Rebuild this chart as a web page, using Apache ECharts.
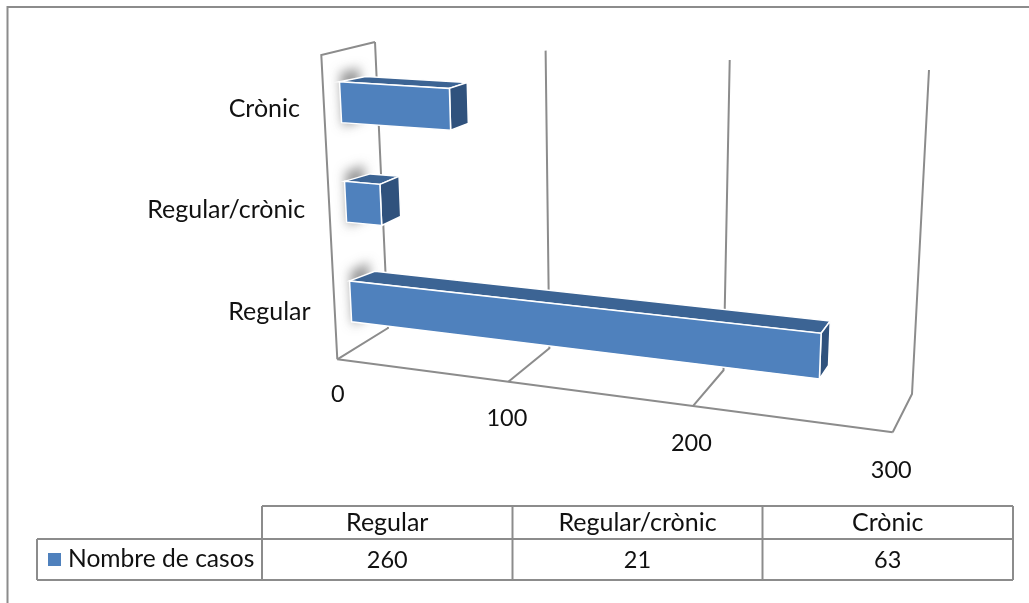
<!DOCTYPE html>
<html><head><meta charset="utf-8">
<style>html,body{margin:0;padding:0;background:#fff}#c{width:1029px;height:603px}</style>
<script src="https://cdn.jsdelivr.net/npm/echarts@6/dist/echarts.min.js"></script>
</head><body><div id="c"></div>
<script>
const categories = ['Regular', 'Regular/crònic', 'Crònic'];
const caseCounts = [260, 21, 63];
const axisTicks = [0, 100, 200, 300];
const seriesName = 'Nombre de casos';

// Box corners of the perspective view: front/back, bottom/top, at value min / max
const F0B=[337.3,359.3],F3B=[892.7,432.3],B0B=[388,328],B3B=[912,394],
      F0T=[321.3,55],F3T=[910,86],B0T=[375,42],B3T=[929,70];
const G={left:100,top:100,w:300,h:300};
const FONT='Lato', GRID='#8c8c8c', TXT='#111', WORD=25, NUM=23.5;
const lerp=(a,b,k)=>[a[0]+(b[0]-a[0])*k,a[1]+(b[1]-a[1])*k];
const persp=u=>u*(1-0.11)/(1-0.11*u);
function P(u,t,d){
  const s=persp(u);
  const fb=lerp(F0B,F3B,s),ft=lerp(F0T,F3T,s),bb=lerp(B0B,B3B,s),bt=lerp(B0T,B3T,s);
  return lerp(lerp(fb,ft,t),lerp(bb,bt,t),d);
}
const toUT=p=>[(p[0]-G.left)/G.w,(G.top+G.h-p[1])/G.h];

function renderGrid(params,api){
  const v=api.value(0);
  const [u]=toUT(api.coord([v,0]));
  const kids=[];
  const lineStyle={stroke:GRID,lineWidth:2,fill:null};
  kids.push({type:'polyline',shape:{points:[P(u,0,0),P(u,0,1),P(u,1,1)]},style:lineStyle});
  if(params.dataIndex===0){
    kids.push({type:'polyline',shape:{points:[P(0,0,0),P(0,1,0),P(0,1,1)]},style:lineStyle});
    kids.push({type:'line',shape:{x1:F0B[0],y1:F0B[1],x2:F3B[0],y2:F3B[1]},style:lineStyle});
  }
  const p=P(u,0,0);
  kids.push({type:'text',style:{text:String(v),x:p[0]-(u>0?1.5:-0.5),y:p[1]+35.5+2.5*u,align:'center',verticalAlign:'middle',fontFamily:FONT,fontSize:NUM,fill:TXT}});
  return {type:'group',children:kids};
}
function renderCat(params,api){
  const c=api.value(0);
  const [,t]=toUT(api.coord([0,c]));
  const p=P(0,t,0);
  return {type:'text',style:{text:categories[c],x:p[0]-24,y:p[1]+3,align:'right',verticalAlign:'middle',fontFamily:FONT,fontSize:WORD,fill:TXT}};
}
function renderBar(params,api){
  const val=api.value(0),c=api.value(1);
  const end=api.coord([val,c]),start=api.coord([0,c]);
  const band=api.size([0,1])[1];
  const u0=toUT(start)[0],u1=toUT(end)[0],tm=toUT(end)[1]-0.005;
  const hw=0.205*band/G.h,t0=tm-hw,t1=tm+hw,d0=0.31,d1=0.69,ub=u0+0.012;
  const edge={stroke:'#fff',lineWidth:1.5};
  // soft wall shadow: the shape sits off-canvas, only its blurred shadow lands on the wall
  const OFF=3000;
  const shadowPts=[P(0,t0-0.014,d0+0.02),P(0,t1+0.03,d0+0.02),P(0,t1+0.03,d1),P(0,t0-0.014,d1)].map(p=>[p[0]-OFF,p[1]]);
  return {type:'group',children:[
    {type:'polygon',shape:{points:shadowPts},
     style:{fill:'#000',shadowBlur:11,shadowOffsetX:OFF,shadowColor:'rgba(135,135,135,0.85)'}},
    {type:'polygon',shape:{points:[P(u0,t1,d0),P(ub,t1,d1),P(u1,t1,d1),P(u1,t1,d0)]},style:{fill:'#3C6494',...edge}},
    {type:'polygon',shape:{points:[P(u1,t0,d0),P(u1,t1,d0),P(u1,t1,d1),P(u1,t0,d1)]},style:{fill:'#30527D',...edge}},
    {type:'polygon',shape:{points:[P(u0,t0,d0),P(u0,t1,d0),P(u1,t1,d0),P(u1,t0,d0)]},style:{fill:'#4F81BD',...edge}}
  ]};
}

// Data table
const colX=[262,512.5,762.5,1013], rowY=[506,539,580], tableLeft=37;
const tLine={stroke:GRID,lineWidth:2};
const hline=(x1,x2,y)=>({type:'line',shape:{x1,y1:y,x2,y2:y},style:tLine,silent:true});
const vline=(x,y1,y2)=>({type:'line',shape:{x1:x,y1,x2:x,y2},style:tLine,silent:true});
const cell=(text,x,y,size)=>({type:'text',style:{text:String(text),x,y,align:'center',verticalAlign:'middle',fontFamily:FONT,fontSize:size,fill:TXT},silent:true});
const graphics=[
  {type:'line',shape:{x1:7,y1:7,x2:1029,y2:7},style:{stroke:GRID,lineWidth:2},silent:true},
  {type:'line',shape:{x1:7.5,y1:6,x2:7.5,y2:603},style:{stroke:GRID,lineWidth:2},silent:true},
  hline(colX[0],colX[3],rowY[0]),hline(tableLeft,colX[3],rowY[1]),hline(tableLeft,colX[3],rowY[2]),
  vline(tableLeft,rowY[1],rowY[2]),
  ...colX.map(x=>vline(x,rowY[0],rowY[2])),
  ...categories.map((c,i)=>cell(c,(colX[i]+colX[i+1])/2,523,WORD)),
  ...caseCounts.map((v,i)=>cell(v,(colX[i]+colX[i+1])/2,560,NUM))
];

const chart=echarts.init(document.getElementById('c'),null,{renderer:'canvas'});
chart.setOption({
  animation:false,
  backgroundColor:'#fff',
  grid:{left:G.left,top:G.top,width:G.w,height:G.h,show:false},
  xAxis:{type:'value',min:axisTicks[0],max:axisTicks[axisTicks.length-1],interval:100,show:false},
  yAxis:{type:'category',data:categories,show:false},
  legend:{data:[seriesName],left:43,top:547,icon:'rect',itemWidth:13,itemHeight:13,itemGap:0,
    textStyle:{fontFamily:FONT,fontSize:24.6,color:TXT,padding:[0,0,0,2]},selectedMode:false,padding:[0,0,0,5]},
  tooltip:{show:false},
  graphic:graphics,
  series:[
    {type:'custom',name:'grid',silent:true,renderItem:renderGrid,data:axisTicks.map(v=>[v])},
    {type:'custom',name:'cats',silent:true,renderItem:renderCat,data:categories.map((c,i)=>[i])},
    {type:'custom',name:seriesName,silent:true,renderItem:renderBar,itemStyle:{color:'#4F81BD'},
     data:caseCounts.map((v,i)=>[v,i])}
  ]
});
</script></body></html>
